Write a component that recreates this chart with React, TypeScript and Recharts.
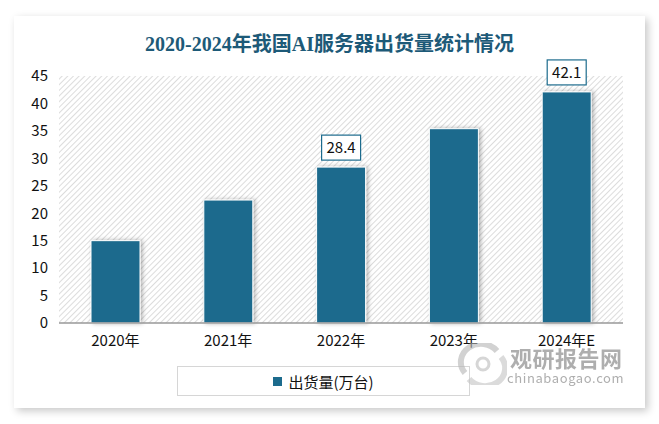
import React from "react";
import { BarChart, Bar, XAxis, YAxis, CartesianGrid, LabelList, Legend } from "recharts";

const years = ["2020年", "2021年", "2022年", "2023年", "2024年E"];
const shipments = [15, 22.4, 28.4, 35.4, 42.1];
const labelledYears = ["2022年", "2024年E"];
const yTicks = [0, 5, 10, 15, 20, 25, 30, 35, 40, 45];

const data = years.map((year, i) => ({ year, value: shipments[i] }));

const BAR = "#1c6b8d";
const SANS = "'Noto Sans CJK SC', 'Liberation Sans', sans-serif";

function BoxLabel(props: any) {
  const { x, y, width, value, index } = props;
  if (!labelledYears.includes(years[index])) return null;
  const cx = x + width / 2;
  const w = 39;
  const h = 25;
  return (
    <g>
      <rect x={cx - w / 2} y={y - 7 - h} width={w} height={h} fill="#fff" stroke="#1c6b8d" strokeWidth={1.2} />
      <text x={cx} y={y - 7 - h / 2 + 5.5} textAnchor="middle" fontSize={15} fill="#111" fontFamily={SANS}>
        {value}
      </text>
    </g>
  );
}

function LegendBox() {
  return (
    <div
      style={{
        width: 293,
        height: 30,
        border: "1px solid #d6d6d6",
        boxSizing: "border-box",
        display: "flex",
        alignItems: "center",
        justifyContent: "center",
        fontFamily: SANS,
        fontSize: 15,
        color: "#111",
      }}
    >
      <span style={{ width: 9, height: 9, background: BAR, display: "inline-block", marginRight: 6 }} />
      出货量(万台)
    </div>
  );
}

export default function App() {
  return (
    <div style={{ position: "absolute", left: 0, top: 0, width: 659, height: 424, background: "#fff", overflow: "hidden" }}>
      <div
        style={{
          position: "absolute",
          left: 14,
          top: 16,
          width: 631,
          height: 392,
          background: "#fff",
          boxShadow: "3px 3px 8px rgba(0,0,0,0.22)",
        }}
      >
        <div
          style={{
            position: "absolute",
            top: 12,
            width: "100%",
            textAlign: "center",
            fontFamily: "'Liberation Serif', 'Noto Sans CJK SC', serif",
            fontWeight: "bold",
            fontSize: 20,
            color: "#1d5a78",
            whiteSpace: "nowrap",
          }}
        >
          2020-2024年我国AI服务器出货量统计情况
        </div>
        <BarChart width={631} height={392} data={data} margin={{ top: 60, right: 22, left: 0, bottom: 25 }}>
          <defs>
            <pattern id="hatch" width="4" height="4" patternUnits="userSpaceOnUse" patternTransform="rotate(45)">
              <rect width="4" height="4" fill="#fff" />
              <line x1="0" y1="0" x2="0" y2="4" stroke="#d4d4d4" strokeWidth="1.6" />
            </pattern>
            <filter id="shadow" x="-20%" y="-20%" width="150%" height="150%">
              <feDropShadow dx="2" dy="0" stdDeviation="2" floodColor="#000" floodOpacity="0.3" />
            </filter>
          </defs>
          <CartesianGrid fill="url(#hatch)" horizontal={false} vertical={false} />
          <XAxis
            dataKey="year"
            height={30}
            tickLine={false}
            axisLine={{ stroke: "#999", strokeWidth: 1.5 }}
            tick={{ fontSize: 15, fill: "#111", fontFamily: SANS }}
            tickMargin={6}
          />
          <YAxis
            width={45}
            domain={[0, 45]}
            ticks={yTicks}
            interval={0}
            tickLine={false}
            axisLine={false}
            tickMargin={5}
            tick={{ fontSize: 15, fill: "#111", fontFamily: SANS }}
          />
          <Legend
            content={<LegendBox />}
            wrapperStyle={{ left: 163, top: 350, width: 293, height: 30 }}
          />
          <Bar
            dataKey="value"
            name="出货量(万台)"
            fill={BAR}
            stroke="#fff"
            strokeWidth={1}
            barSize={49}
            filter="url(#shadow)"
            isAnimationActive={false}
          >
            <LabelList dataKey="value" content={<BoxLabel />} />
          </Bar>
        </BarChart>
        <svg
          width={50}
          height={42}
          viewBox="0 0 50 42"
          style={{ position: "absolute", left: 443, top: 327, opacity: 0.6 }}
        >
          <path d="M8 30 A20 18 0 0 1 40 8" fill="none" stroke="#b5b5b5" strokeWidth={6} />
          <path d="M44 14 A20 18 0 0 1 12 36" fill="none" stroke="#c4c4c4" strokeWidth={6} />
          <circle cx={26} cy={21} r={6} fill="none" stroke="#bbb" strokeWidth={3} />
        </svg>
        <div
          style={{
            position: "absolute",
            left: 493,
            top: 328,
            fontFamily: SANS,
            color: "#9a9a9a",
            opacity: 0.8,
            whiteSpace: "nowrap",
          }}
        >
          <div style={{ fontSize: 22, fontWeight: "bold", letterSpacing: 0.5, lineHeight: "26px", paddingLeft: 3 }}>
            观研报告网
          </div>
          <div style={{ fontSize: 13, letterSpacing: 0.6, lineHeight: "16px" }}>chinabaogao.com</div>
        </div>
      </div>
    </div>
  );
}
